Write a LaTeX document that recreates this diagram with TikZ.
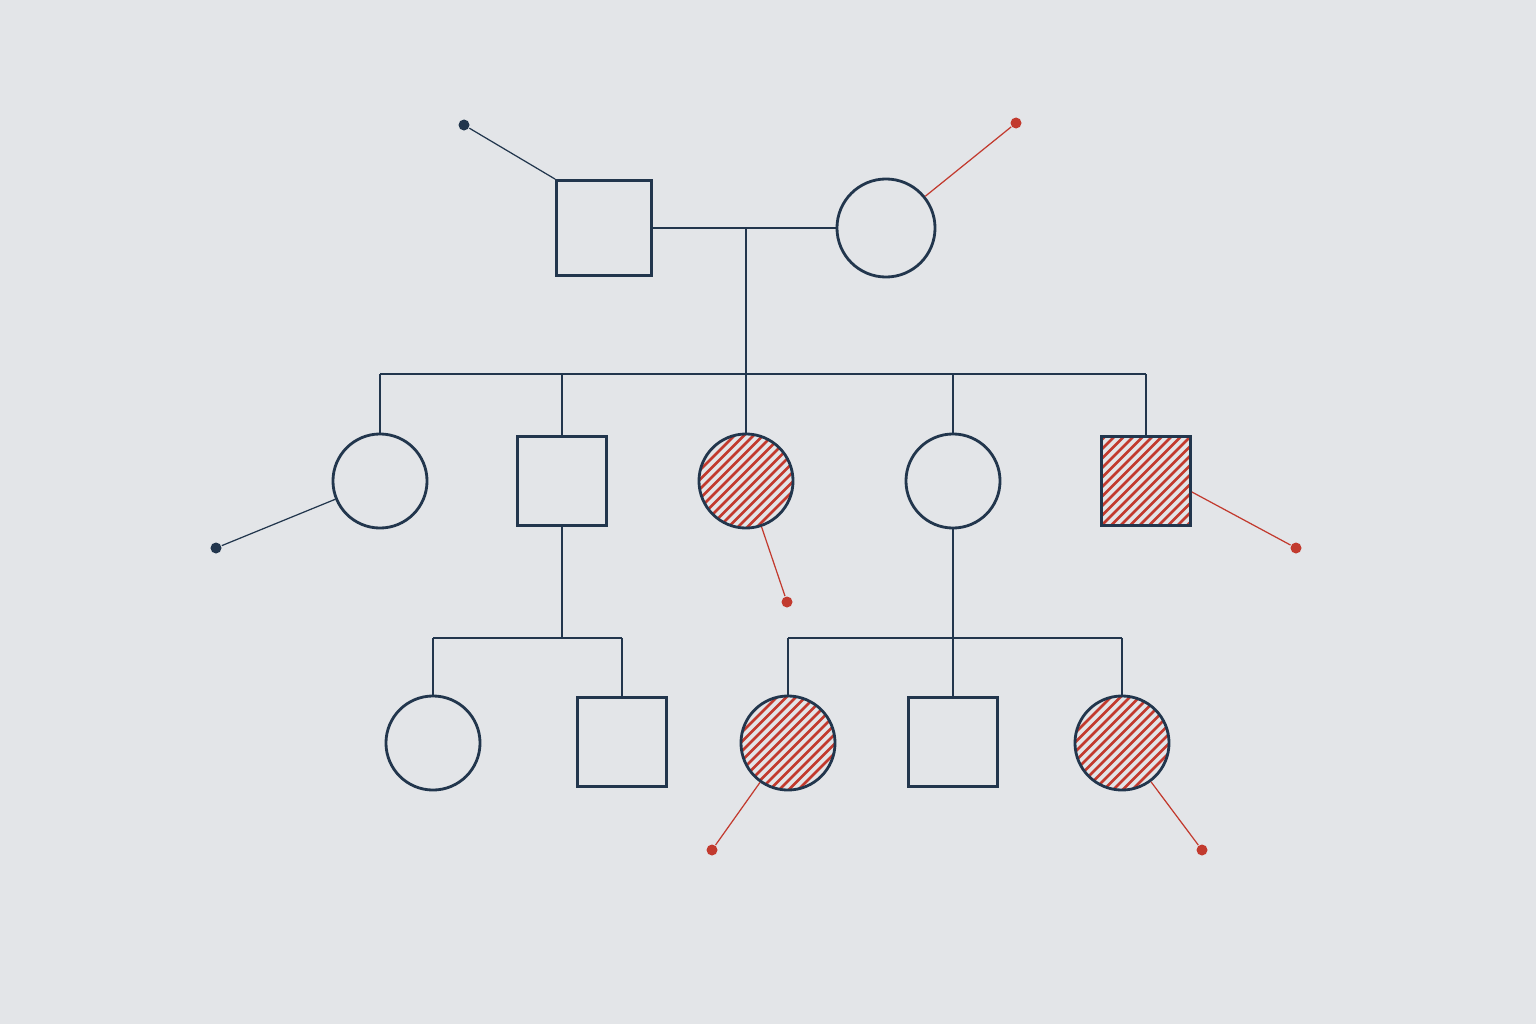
\documentclass[tikz,border=0pt]{standalone}
\usetikzlibrary{calc}
\definecolor{bg}{HTML}{E3E5E8}
\definecolor{navy}{HTML}{22364D}
\definecolor{hred}{HTML}{C23A2E}
\begin{document}
\begin{tikzpicture}[x=0.01cm,y=-0.01cm,
  line/.style={draw=navy,line width=0.8pt},
  male/.style={line,rectangle,minimum size=0.89cm,inner sep=0pt},
  female/.style={line,circle,minimum size=0.94cm,inner sep=0pt},
  hatched/.style={path picture={
     \foreach \k in {-12,...,12}
       \draw[hred,line width=0.75pt] ($(path picture bounding box.center)+(\k*9.5,0)$) ++(-60,60) -- ++(120,-120);}},
  pin/.style={circle,inner sep=0pt,minimum size=0.11cm,fill=#1},
  pinline/.style={draw=#1,line width=0.35pt}]
\fill[bg] (0,0) rectangle (1536,1024);
\useasboundingbox (0,0) rectangle (1536,1024);
% generation I
\node[male,minimum size=0.95cm] (f) at (604,228) {};
\node[female,minimum size=0.98cm] (m) at (886,228) {};
\coordinate (mid) at (746,228);
\coordinate (s1) at (746,374);
\coordinate (s1l) at (380,374);
\coordinate (s1r) at (1146,374);
\draw[line] (f.east) -- (m.west);
\draw[line] (mid) -- (s1);
\draw[line] (s1l) -- (s1r);
% generation II
\node[female] (a1) at (380,481) {};
\node[male] (a2) at (562,481) {};
\node[female,hatched] (a3) at (746,481) {};
\node[female] (a4) at (953,481) {};
\node[male,hatched] (a5) at (1146,481) {};
\draw[line] (s1l) -- (a1.north);
\draw[line] (a2.north |- s1) -- (a2.north);
\draw[line] (s1) -- (a3.north);
\draw[line] (a4.north |- s1) -- (a4.north);
\draw[line] (s1r) -- (a5.north);
% generation III
\coordinate (s2) at (562,638);
\coordinate (s2l) at (433,638);
\coordinate (s2r) at (622,638);
\coordinate (s3) at (953,638);
\coordinate (s3l) at (788,638);
\coordinate (s3r) at (1122,638);
\draw[line] (a2.south) -- (s2);
\draw[line] (s2l) -- (s2r);
\draw[line] (a4.south) -- (s3);
\draw[line] (s3l) -- (s3r);
\node[female] (b1) at (433,743) {};
\node[male] (b2) at (622,742) {};
\node[female,hatched] (b3) at (788,743) {};
\node[male] (b4) at (953,742) {};
\node[female,hatched] (b5) at (1122,743) {};
\draw[line] (s2l) -- (b1.north);
\draw[line] (s2r) -- (b2.north);
\draw[line] (s3l) -- (b3.north);
\draw[line] (s3) -- (b4.north);
\draw[line] (s3r) -- (b5.north);
% pins
\node[pin=navy] (p1) at (464,125) {};
\node[pin=hred] (p2) at (1016,123) {};
\node[pin=navy] (p3) at (216,548) {};
\node[pin=hred] (p4) at (787,602) {};
\node[pin=hred] (p5) at (1296,548) {};
\node[pin=hred] (p6) at (712,850) {};
\node[pin=hred] (p7) at (1202,850) {};
\draw[pinline=navy] (p1) -- (f.north west);
\draw[pinline=hred] (p2) -- (m);
\draw[pinline=navy] (p3) -- (a1);
\draw[pinline=hred] (p4) -- (a3);
\draw[pinline=hred] (p5) -- ($(a5.east)+(0,11)$);
\draw[pinline=hred] (p6) -- (b3);
\draw[pinline=hred] (p7) -- (b5);
\end{tikzpicture}
\end{document}
